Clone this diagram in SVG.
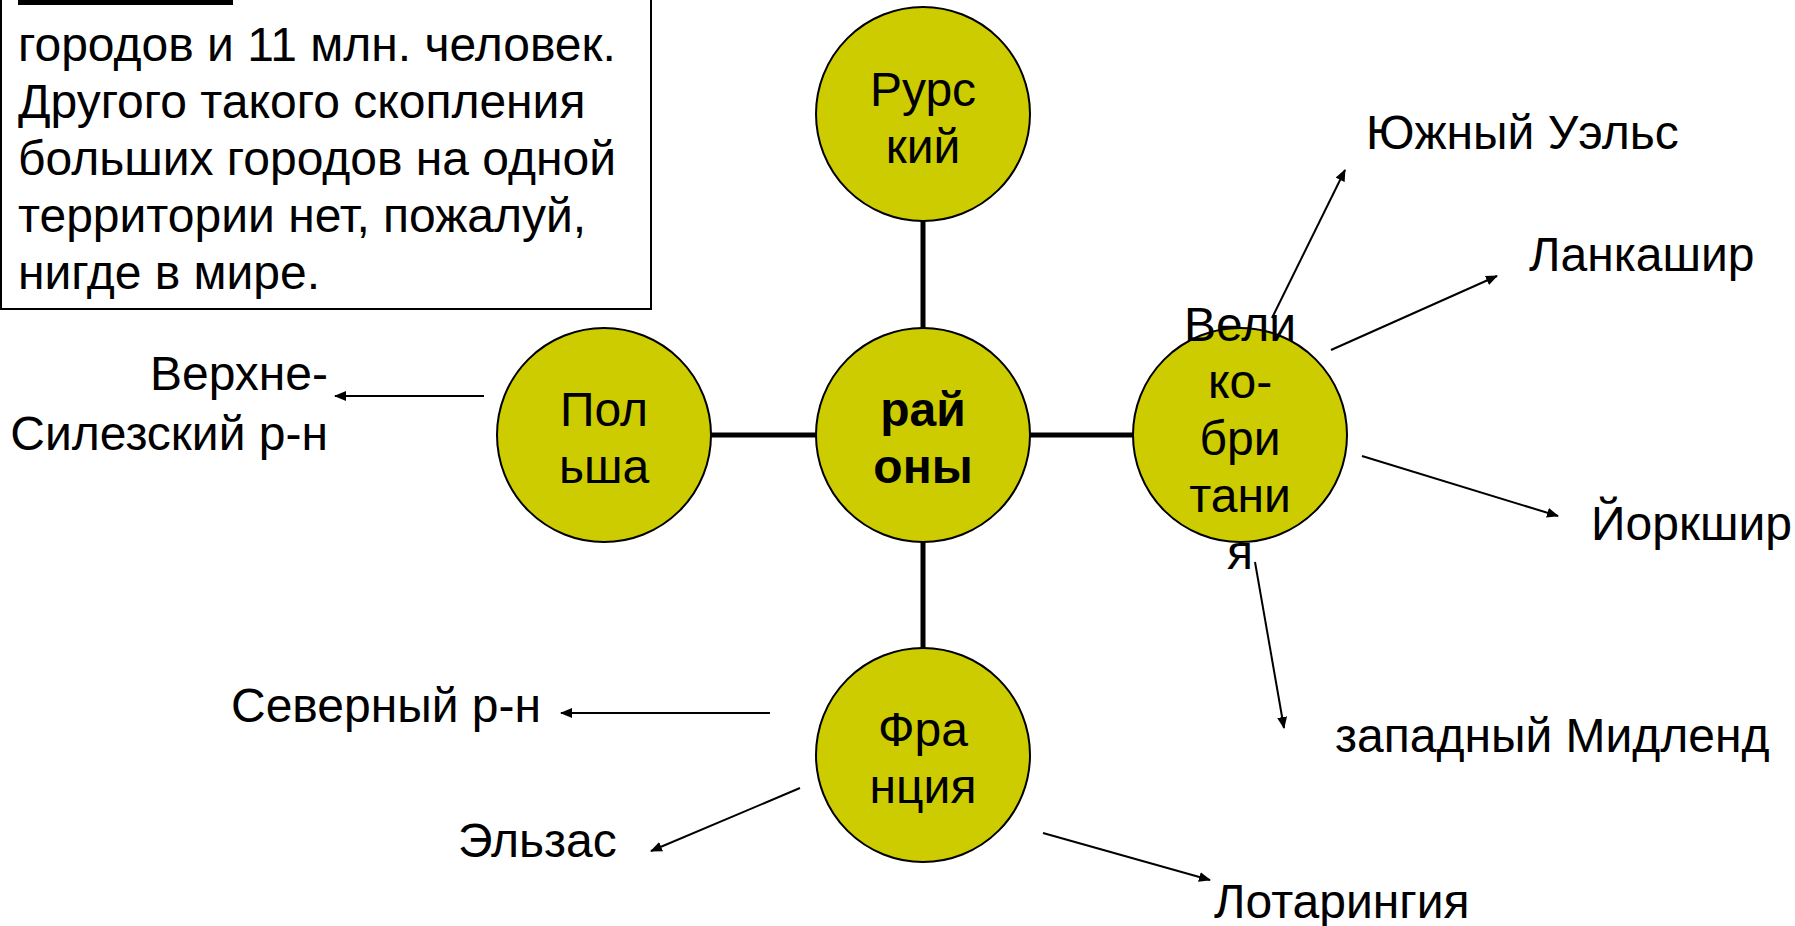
<svg xmlns="http://www.w3.org/2000/svg" width="1795" height="926" viewBox="0 0 1795 926">
<defs>
<marker id="ah" viewBox="0 0 12 10" refX="11" refY="5" markerWidth="12" markerHeight="10" markerUnits="userSpaceOnUse" orient="auto">
<path d="M0,0 L12,5 L0,10 Z" fill="#000"/>
</marker>
<style>
text{font-family:"Liberation Sans",Arial,sans-serif;font-size:48px;fill:#000}
.c{fill:#CCCC00;stroke:#000;stroke-width:2}
.mid{text-anchor:middle}
.thick{stroke:#000;stroke-width:5;fill:none}
.arr{stroke:#000;stroke-width:2;fill:none;marker-end:url(#ah)}
</style>
</defs>
<rect width="1795" height="926" fill="#fff"/>
<g id="note">
<rect x="1" y="-10" width="650" height="319" fill="#fff" stroke="#000" stroke-width="2"/>
<rect x="18" y="0" width="215" height="5" fill="#000"/>
<text x="18" y="61">городов и 11 млн. человек.</text>
<text x="18" y="118">Другого такого скопления</text>
<text x="18" y="175">больших городов на одной</text>
<text x="18" y="232">территории нет, пожалуй,</text>
<text x="18" y="289">нигде в мире.</text>
</g>
<g id="connectors">
<line class="thick" x1="923" y1="221" x2="923" y2="328"/>
<line class="thick" x1="711" y1="435" x2="816" y2="435"/>
<line class="thick" x1="1030" y1="435" x2="1133" y2="435"/>
<line class="thick" x1="923" y1="542" x2="923" y2="648"/>
<line class="arr" x1="1272" y1="318" x2="1345" y2="170"/>
<line class="arr" x1="1331" y1="350" x2="1497" y2="276"/>
<line class="arr" x1="1362" y1="456" x2="1558" y2="516"/>
<line class="arr" x1="1255" y1="562" x2="1284" y2="728"/>
<line class="arr" x1="1043" y1="833" x2="1210" y2="880"/>
<line class="arr" x1="800" y1="788" x2="651" y2="851"/>
<line class="arr" x1="770" y1="713" x2="561" y2="713"/>
<line class="arr" x1="484" y1="396" x2="335" y2="396"/>
</g>
<g id="rursky">
<circle class="c" cx="923" cy="114" r="107"/>
<text class="mid" x="923" y="106">Рурс</text>
<text class="mid" x="923" y="163">кий</text>
</g>
<g id="rayony">
<circle class="c" cx="923" cy="435" r="107"/>
<text class="mid" x="923" y="426" font-weight="bold">рай</text>
<text class="mid" x="923" y="483" font-weight="bold">оны</text>
</g>
<g id="polsha">
<circle class="c" cx="604" cy="435" r="107"/>
<text class="mid" x="604" y="426">Пол</text>
<text class="mid" x="604" y="483">ьша</text>
</g>
<g id="britain">
<circle class="c" cx="1240" cy="435" r="107"/>
<text class="mid" x="1240" y="341">Вели</text>
<text class="mid" x="1240" y="398">ко-</text>
<text class="mid" x="1240" y="455">бри</text>
<text class="mid" x="1240" y="512">тани</text>
<text class="mid" x="1240" y="569">я</text>
</g>
<g id="france">
<circle class="c" cx="923" cy="755" r="107"/>
<text class="mid" x="923" y="746">Фра</text>
<text class="mid" x="923" y="803">нция</text>
</g>
<g id="labels">
<text x="1366" y="149">Южный Уэльс</text>
<text x="1529" y="271">Ланкашир</text>
<text x="1591" y="540">Йоркшир</text>
<text x="1335" y="752">западный Мидленд</text>
<text x="1214" y="918">Лотарингия</text>
<text x="458" y="857">Эльзас</text>
<text x="231" y="722">Северный р-н</text>
<text x="328" y="390" text-anchor="end">Верхне-</text>
<text x="328" y="450" text-anchor="end">Силезский р-н</text>
</g>
</svg>
